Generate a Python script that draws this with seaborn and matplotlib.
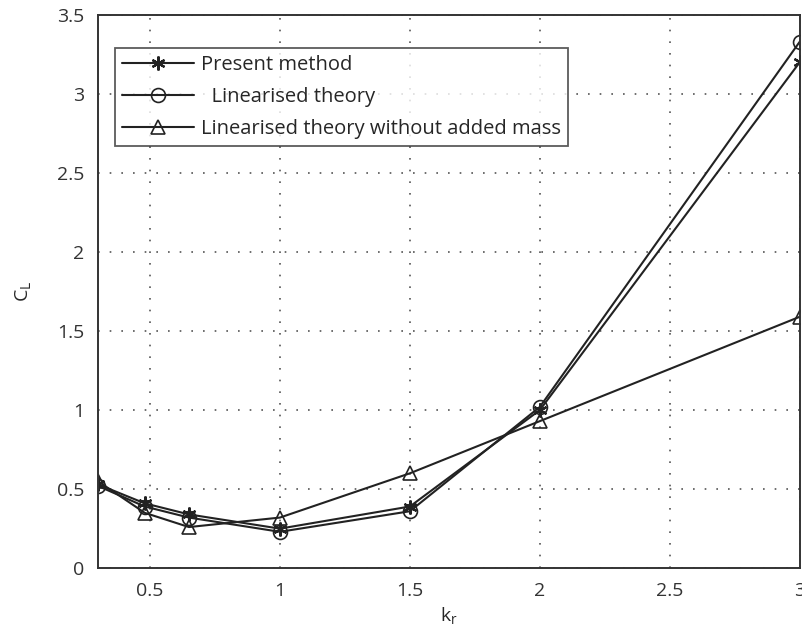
import matplotlib
matplotlib.use("Agg")
import matplotlib.pyplot as plt
import seaborn as sns
import pandas as pd

kr = [0.3, 0.48, 0.65, 1.0, 1.5, 2.0, 3.0]
present_method = [0.53, 0.41, 0.34, 0.25, 0.39, 1.00, 3.20]
linearised = [0.52, 0.39, 0.32, 0.23, 0.36, 1.02, 3.33]
linearised_no_mass = [0.55, 0.35, 0.26, 0.32, 0.60, 0.93, 1.59]
labels = ["Present method", "  Linearised theory", "Linearised theory without added mass"]
xticks = [0.5, 1, 1.5, 2, 2.5, 3]
yticks = [0, 0.5, 1, 1.5, 2, 2.5, 3, 3.5]

sns.set_style("white")
plt.rcParams['font.family'] = ['Open Sans', 'DejaVu Sans']

fig = plt.figure(figsize=(8.03, 6.42), dpi=100)
ax = fig.add_axes([0.122, 0.115, 0.874, 0.862])

series = [present_method, linearised, linearised_no_mass]
markers = [(6, 2, 0), 'o', '^']
for vals, lab, m in zip(series, labels, markers):
    df = pd.DataFrame({"kr": kr, "CL": vals})
    sns.lineplot(data=df, x="kr", y="CL", ax=ax, color="#222222", linewidth=1.5,
                 marker=m, markersize=10,
                 markerfacecolor='none',
                 markeredgecolor='#222222', markeredgewidth=1.6 if m == (6, 2, 0) else 1.2,
                 label=lab)

ax.set_xlim(0.3, 3)
ax.set_ylim(0, 3.5)
ax.set_xticks(xticks)
ax.set_xticklabels([f"{t:g}" for t in xticks])
ax.set_yticks(yticks)
ax.set_yticklabels([f"{t:g}" for t in yticks])
ax.grid(True, linestyle=(0, (1, 6)), color='#555555', linewidth=1.2)
ax.tick_params(direction='in', length=5, labelsize=14, colors='#333333', pad=10)
for s in ax.spines.values():
    s.set_color('#333333')
    s.set_linewidth(1.4)
ax.set_xlabel(r"k$_\mathregular{r}$", fontsize=14, labelpad=4)
ax.set_ylabel(r"C$_\mathregular{L}$", fontsize=14, labelpad=16)

leg = ax.legend(loc='upper left', bbox_to_anchor=(0.024, 0.94), fontsize=14.5,
                frameon=True, fancybox=False, edgecolor='#333333',
                handlelength=3.6, borderpad=0.35, labelspacing=0.6, handletextpad=0.35,
                borderaxespad=0)
leg.get_frame().set_linewidth(1.3)

fig.savefig("out.png", dpi=100)
